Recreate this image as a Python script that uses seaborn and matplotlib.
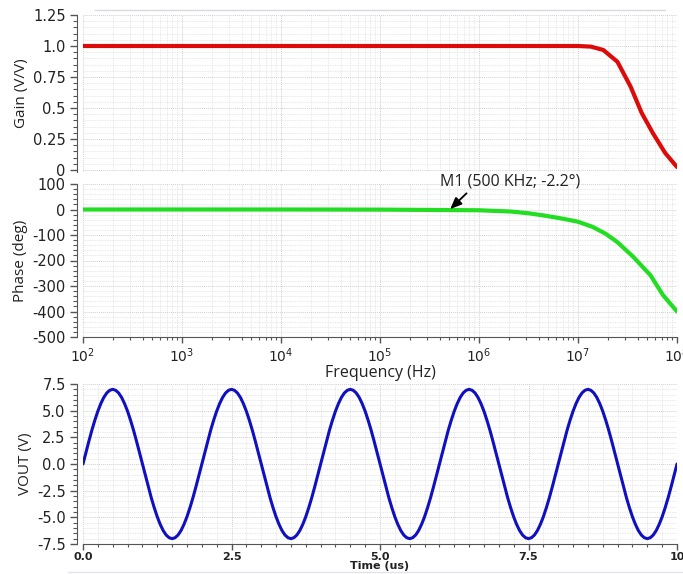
import matplotlib
matplotlib.use("Agg")
import matplotlib.pyplot as plt
import matplotlib.ticker as mticker
from matplotlib.lines import Line2D
import seaborn as sns
import pandas as pd

# ---------------- data ----------------
gain_freq = [1e2, 1e3, 1e4, 1e5, 1e6, 1e7, 1.35e7, 1.8e7, 2.5e7, 3.4e7, 4.4e7, 5.7e7, 7.6e7, 1e8]
gain_vals = [1.0, 1.0, 1.0, 1.0, 1.0, 1.0, 0.995, 0.968, 0.873, 0.672, 0.46, 0.298, 0.137, 0.024]

phase_freq = [1e2, 1e3, 1e4, 1e5, 5e5, 1e6, 2.1e6, 3.2e6, 4.6e6, 7e6, 1e7, 1.4e7, 1.9e7,
              2.5e7, 3.6e7, 5.4e7, 7.2e7, 1e8]
phase_vals = [0.0, 0.0, 0.0, -0.5, -2.2, -3, -8, -15, -24, -36, -48, -68, -95,
              -128, -185, -258, -335, -400]

time_us = [i / 20 for i in range(201)]
vout = [
    0.0, 1.09, 2.16, 3.18, 4.11, 4.95, 5.66, 6.24, 6.66, 6.91,
    7.0, 6.91, 6.66, 6.24, 5.66, 4.95, 4.11, 3.18, 2.16, 1.09,
    0.0, -1.09, -2.16, -3.18, -4.11, -4.95, -5.66, -6.24, -6.66, -6.91,
    -7.0, -6.91, -6.66, -6.24, -5.66, -4.95, -4.11, -3.18, -2.16, -1.09,
    0.0, 1.09, 2.16, 3.18, 4.11, 4.95, 5.66, 6.24, 6.66, 6.91,
    7.0, 6.91, 6.66, 6.24, 5.66, 4.95, 4.11, 3.18, 2.16, 1.09,
    0.0, -1.09, -2.16, -3.18, -4.11, -4.95, -5.66, -6.24, -6.66, -6.91,
    -7.0, -6.91, -6.66, -6.24, -5.66, -4.95, -4.11, -3.18, -2.16, -1.09,
    0.0, 1.09, 2.16, 3.18, 4.11, 4.95, 5.66, 6.24, 6.66, 6.91,
    7.0, 6.91, 6.66, 6.24, 5.66, 4.95, 4.11, 3.18, 2.16, 1.09,
    0.0, -1.09, -2.16, -3.18, -4.11, -4.95, -5.66, -6.24, -6.66, -6.91,
    -7.0, -6.91, -6.66, -6.24, -5.66, -4.95, -4.11, -3.18, -2.16, -1.09,
    0.0, 1.09, 2.16, 3.18, 4.11, 4.95, 5.66, 6.24, 6.66, 6.91,
    7.0, 6.91, 6.66, 6.24, 5.66, 4.95, 4.11, 3.18, 2.16, 1.09,
    0.0, -1.09, -2.16, -3.18, -4.11, -4.95, -5.66, -6.24, -6.66, -6.91,
    -7.0, -6.91, -6.66, -6.24, -5.66, -4.95, -4.11, -3.18, -2.16, -1.09,
    0.0, 1.09, 2.16, 3.18, 4.11, 4.95, 5.66, 6.24, 6.66, 6.91,
    7.0, 6.91, 6.66, 6.24, 5.66, 4.95, 4.11, 3.18, 2.16, 1.09,
    0.0, -1.09, -2.16, -3.18, -4.11, -4.95, -5.66, -6.24, -6.66, -6.91,
    -7.0, -6.91, -6.66, -6.24, -5.66, -4.95, -4.11, -3.18, -2.16, -1.09,
    0.0,
]

gain_ticks = [0, 0.25, 0.5, 0.75, 1.0, 1.25]
gain_tick_labels = ["0", "0.25", "0.5", "0.75", "1.0", "1.25"]
phase_ticks = [-500, -400, -300, -200, -100, 0, 100]
freq_ticks = [1e2, 1e3, 1e4, 1e5, 1e6, 1e7, 1e8]
vout_ticks = [-7.5, -5.0, -2.5, 0.0, 2.5, 5.0, 7.5]
vout_tick_labels = ["-7.5", "-5.0", "-2.5", "0.0", "2.5", "5.0", "7.5"]
time_ticks = [0, 2.5, 5.0, 7.5, 10]
time_tick_labels = ["0.0", "2.5", "5.0", "7.5", "10"]
marker_label = "M1 (500 KHz; -2.2°)"

# ---------------- style ----------------
sns.set_style("ticks")
plt.rcParams["font.family"] = ["Open Sans", "DejaVu Sans"]
plt.rcParams["axes.unicode_minus"] = False

W, H = 683, 574
fig = plt.figure(figsize=(W / 100, H / 100), dpi=100)


def rect(l, t, r, b):
    return [l / W, 1 - b / H, (r - l) / W, (b - t) / H]


ax_g = fig.add_axes(rect(83, 15, 677, 172))
ax_p = fig.add_axes(rect(83, 184, 677, 337))
ax_t = fig.add_axes(rect(83, 384, 677, 544))

grid_major = dict(color="#d0d0d0", lw=0.7, ls=(0, (1, 1)))
grid_minor = dict(color="#e2e2e2", lw=0.6, ls=(0, (1, 1)))
spine_col = "#555555"
text_col = "#222222"
TICK_FONT = "DejaVu Sans"


def style(ax):
    for s in ["top", "right"]:
        ax.spines[s].set_visible(False)
    ax.spines["left"].set_position(("outward", 4.5))
    ax.spines["left"].set_color(spine_col)
    ax.spines["bottom"].set_color(spine_col)
    ax.grid(which="major", **grid_major)
    ax.grid(which="minor", **grid_minor)
    ax.set_axisbelow(True)
    ax.tick_params(axis="y", which="major", length=5, width=1, color=spine_col,
                   labelsize=10.5, labelcolor=text_col, pad=3, labelfontfamily=TICK_FONT)
    ax.tick_params(axis="y", which="minor", length=3, width=0.8, color=spine_col)


# ---- gain ----
df_g = pd.DataFrame({"f": gain_freq, "g": gain_vals})
sns.lineplot(data=df_g, x="f", y="g", ax=ax_g, color="#dd0a0a", lw=3, sort=False)
ax_g.set_xscale("log")
ax_g.set_xlim(1e2, 1e8)
ax_g.set_ylim(-0.016, 1.25)
style(ax_g)
ax_g.spines["bottom"].set_visible(False)
ax_g.tick_params(axis="x", which="both", bottom=False, labelbottom=False)
ax_g.set_yticks(gain_ticks)
ax_g.set_yticklabels(gain_tick_labels)
ax_g.yaxis.set_minor_locator(mticker.MultipleLocator(0.05))
ax_g.set_xlabel("")
ax_g.set_ylabel("Gain (V/V)", fontsize=11, color=text_col, labelpad=3)

# ---- phase ----
df_p = pd.DataFrame({"f": phase_freq, "p": phase_vals})
sns.lineplot(data=df_p, x="f", y="p", ax=ax_p, color="#22dd22", lw=3, sort=False)
ax_p.set_xscale("log")
ax_p.set_xlim(1e2, 1e8)
ax_p.set_ylim(-500, 100)
style(ax_p)
ax_p.set_yticks(phase_ticks)
ax_p.yaxis.set_minor_locator(mticker.MultipleLocator(20))
ax_p.set_xticks(freq_ticks)
ax_p.xaxis.set_minor_locator(mticker.LogLocator(base=10, subs=range(2, 10), numticks=10))
ax_p.xaxis.set_minor_formatter(mticker.NullFormatter())
ax_p.tick_params(axis="x", which="major", length=4, width=1, color=spine_col,
                 labelsize=10, labelcolor=text_col, pad=3, labelfontfamily=TICK_FONT)
ax_p.tick_params(axis="x", which="minor", length=2.5, width=0.8, color=spine_col)
ax_p.set_xlabel("Frequency (Hz)", fontsize=11.5, color=text_col, labelpad=0)
ax_p.set_ylabel("Phase (deg)", fontsize=11, color=text_col, labelpad=3)

ax_p.annotate(marker_label, xy=(5e5, -2.2), xytext=(61, 21), textcoords="offset pixels",
              ha="center", va="bottom", fontsize=11.5, color=text_col,
              annotation_clip=False,
              arrowprops=dict(arrowstyle="-|>,head_length=0.6,head_width=0.25", color="black",
                              lw=1.3, relpos=(0.22, 0.0), shrinkA=1, shrinkB=1))

# ---- transient ----
df_t = pd.DataFrame({"t": time_us, "v": vout})
sns.lineplot(data=df_t, x="t", y="v", ax=ax_t, color="#1010c0", lw=2.2, sort=False)
ax_t.set_xlim(0, 10)
ax_t.set_ylim(-7.5, 7.5)
style(ax_t)
ax_t.set_yticks(vout_ticks)
ax_t.set_yticklabels(vout_tick_labels)
ax_t.yaxis.set_minor_locator(mticker.MultipleLocator(0.5))
ax_t.set_xticks(time_ticks)
ax_t.set_xticklabels(time_tick_labels, fontfamily="DejaVu Sans", fontweight="bold")
ax_t.xaxis.set_minor_locator(mticker.MultipleLocator(0.25))
ax_t.tick_params(axis="x", which="major", length=4, width=1, color=spine_col,
                 labelsize=8, labelcolor=text_col, pad=2)
ax_t.tick_params(axis="x", which="minor", length=2.5, width=0.8, color=spine_col)
ax_t.set_xlabel("Time (us)", fontsize=8, fontfamily="DejaVu Sans", fontweight="bold",
                color=text_col, labelpad=-1)
ax_t.set_ylabel("VOUT (V)", fontsize=11, color=text_col, labelpad=3)

# light frame lines
fig.add_artist(Line2D([95 / W, 665 / W], [1 - 10 / H, 1 - 10 / H], color="#d8d8e0", lw=1))
fig.add_artist(Line2D([68 / W, 683 / W], [1 - 572 / H, 1 - 572 / H], color="#e4e4e8", lw=1))

fig.savefig("out.png", dpi=100)
